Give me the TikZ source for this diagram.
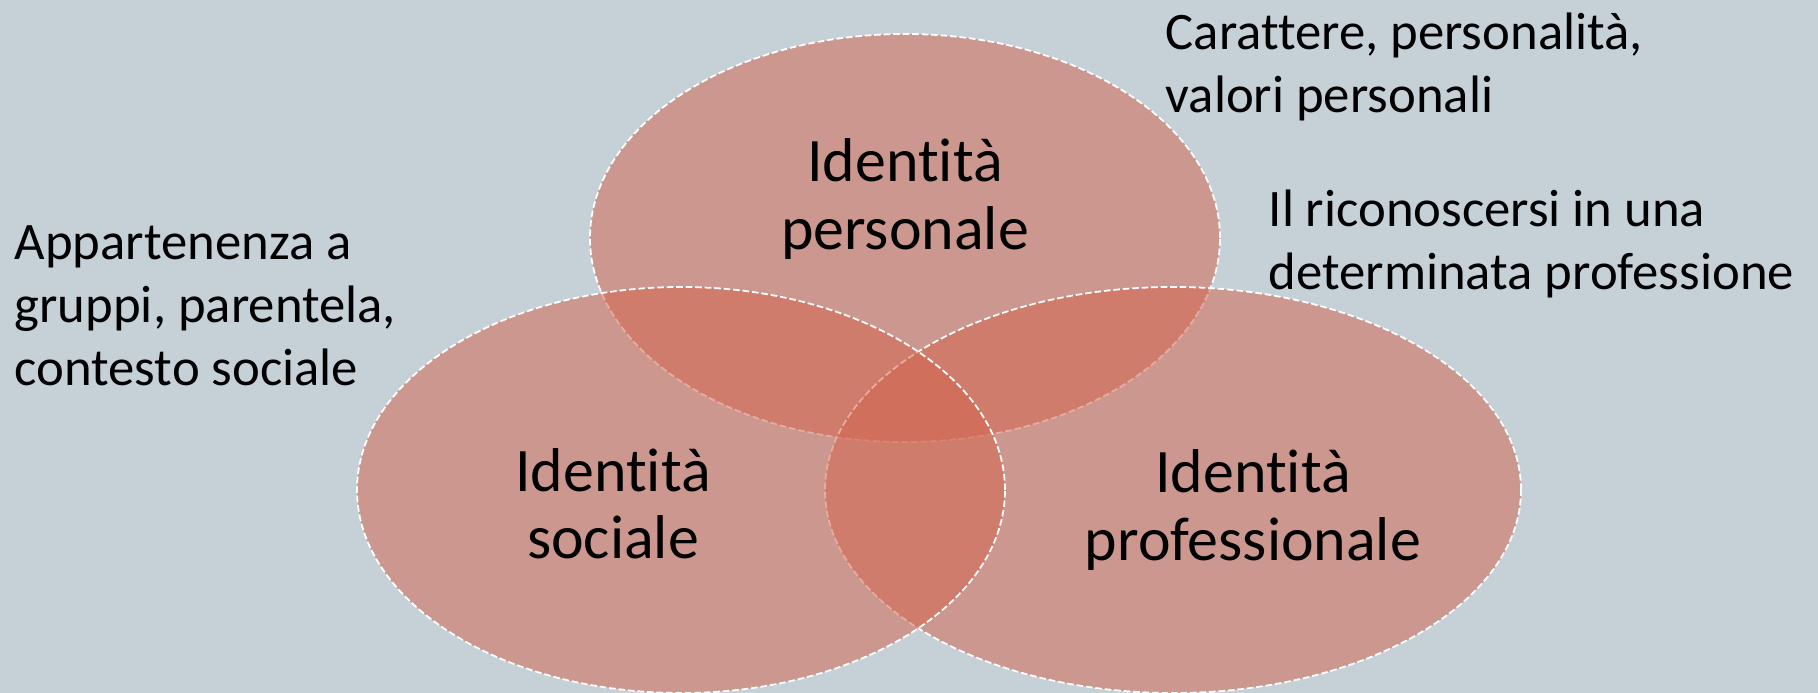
\documentclass[tikz,border=0pt]{standalone}
\usepackage{fontspec}
\setmainfont{Carlito}[Ligatures=NoCommon]
\usetikzlibrary{shapes.geometric}
\definecolor{slate}{RGB}{198,209,215}
\definecolor{brick}{RGB}{210,100,78}
\tikzset{
  setarea/.style = {shape=ellipse, inner sep=0pt, fill=brick, fill opacity=0.53,
                    draw=white, line width=0.5pt, dash pattern=on 1.9pt off 0.8pt},
  setname/.style = {font=\fontsize{17.6}{19.1}\selectfont, align=center, inner sep=0pt},
  note/.style    = {font=\fontsize{15}{17.9}\selectfont, align=left,
                    anchor=north west, inner sep=0pt}
}

\begin{document}
\begin{tikzpicture}
  \fill[slate] (0,0) rectangle (18.18,6.93);
  \useasboundingbox (0,0) rectangle (18.18,6.93);
  \clip (0,0) rectangle (18.18,6.93);

  % the three sets, top first so the others lie over it
  \node[setarea, minimum width=6.30cm, minimum height=4.08cm] (pers) at (9.05,4.55) {};
  \node[setarea, minimum width=6.96cm, minimum height=4.06cm] (prof) at (11.73,2.03) {};
  \node[setarea, minimum width=6.48cm, minimum height=4.06cm] (soc)  at (6.81,2.03) {};

  \node[setname] (perst) at (9.05,4.94)  {Identità\\personale};
  \node[setname] (soct)  at (6.13,1.89)  {Identità\\sociale};
  \node[setname] (proft) at (12.53,1.83) {Identità\\professionale};

  % notes around the sets
  \node[note] (persn) at (11.65,6.81) {Carattere, personalità,\\valori personali};
  \node[note] (profn) at (12.68,5.04) {Il riconoscersi in una\\determinata professione};
  \node[note] (socn)  at (0.14,4.68)  {Appartenenza a\\gruppi, parentela,\\contesto sociale};
\end{tikzpicture}
\end{document}
